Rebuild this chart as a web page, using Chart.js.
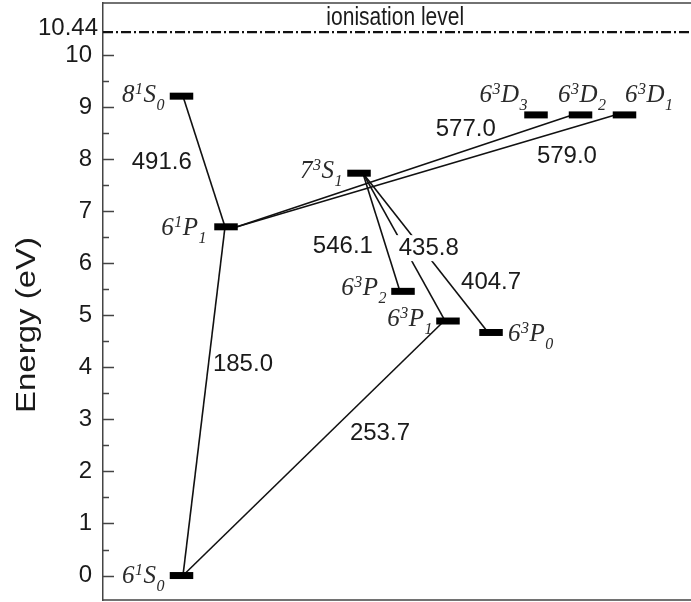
<!DOCTYPE html>
<html lang="en">
<head>
<meta charset="UTF-8">
<title>Hg energy levels</title>
<script src="https://cdn.jsdelivr.net/npm/chart.js@4"></script>
<style>
    html, body { margin: 0; padding: 0; background: #fff; overflow: hidden; }
    canvas { display: block; }
</style>
</head>
<body>
<canvas id="grafico" width="691" height="602"></canvas>
<script>
// levels: n, 2S+1, L, J, energy (eV), column across the diagram (0-100)
const levelNum    = ['6', '8', '6', '7', '6', '6', '6', '6', '6', '6'];
const levelMult   = ['1', '1', '1', '3', '3', '3', '3', '3', '3', '3'];
const levelTerm   = ['S', 'S', 'P', 'S', 'P', 'P', 'P', 'D', 'D', 'D'];
const levelJ      = ['0', '0', '1', '1', '2', '1', '0', '3', '2', '1'];
const levelEnergy = [0, 9.21, 6.70, 7.73, 5.46, 4.89, 4.67, 8.85, 8.85, 8.85];
const levelColumn = [13.35, 13.35, 20.92, 43.54, 51.02, 58.67, 65.99, 73.64, 81.21, 88.69];

// transitions: wavelength (nm), upper / lower level, where the line meets each bar
const lineWavelength = [491.6, 185.0, 577.0, 579.0, 546.1, 435.8, 404.7, 253.7];
const lineUpper      = [1, 2, 8, 9, 3, 3, 3, 5];
const lineLower      = [2, 0, 2, 2, 4, 5, 6, 0];
const lineUpperCol   = [13.6, 20.75, 79.8, 87.1, 44.2, 44.2, 44.2, 58.0];
const lineLowerCol   = [20.75, 13.6, 22.8, 22.8, 50.5, 58.2, 65.5, 13.6];
const lineLabelCol   = [10.0, 23.8, 61.7, 78.9, 40.8, 55.4, 66.0, 47.1];
const lineLabelE     = [7.93, 4.05, 8.58, 8.06, 6.33, 6.29, 5.64, 2.74];

const ionisationEnergy = 10.44;
const yTickValues  = [0, 1, 2, 3, 4, 5, 6, 7, 8, 9, 10, 10.44];
const yMinorValues = [0.5, 1.5, 2.5, 3.5, 4.5, 5.5, 6.5, 7.5, 8.5, 9.5];

// label placement (pixels from the bar centre) - layout only
const levelLabelAlign = ['right', 'right', 'right', 'right', 'right', 'right', 'left', 'right', 'left', 'left'];
const levelLabelDx    = [-16.5, -16.5, -19, -16, -16, -15, 17, -8, -22.5, 0.5];
const levelLabelDy    = [7, 6, 8, 5, 4, 5, 9, -13, -13, -13];
const labelKnockout   = [false, false, false, false, false, true, false, false];

const BAR_HALF = 2.0;
const SANS = '"Liberation Sans", Arial, sans-serif';
const SERIF = '"Liberation Serif", "Times New Roman", serif';

const datasets = [];

levelEnergy.forEach((e, i) => {
    datasets.push({
        data: [{ x: levelColumn[i] - BAR_HALF, y: e }, { x: levelColumn[i] + BAR_HALF, y: e }],
        borderColor: '#000',
        borderWidth: 7,
        borderCapStyle: 'butt',
        order: 0
    });
});

lineWavelength.forEach((w, i) => {
    datasets.push({
        data: [
            { x: lineUpperCol[i], y: levelEnergy[lineUpper[i]] },
            { x: lineLowerCol[i], y: levelEnergy[lineLower[i]] }
        ],
        borderColor: '#111',
        borderWidth: 1.6,
        order: 1
    });
});

datasets.push({
    data: [{ x: 0, y: ionisationEnergy }, { x: 100, y: ionisationEnergy }],
    borderColor: '#111',
    borderWidth: 2.2,
    borderDash: [10, 3, 2, 3],
    order: 2
});

function drawLevelLabel(ctx, i, x, y, align) {
    const big = 'italic 25px ' + SERIF;
    const small = 'italic 16px ' + SERIF;
    const parts = [
        [levelNum[i], big, 0],
        [levelMult[i], small, -8],
        [levelTerm[i], big, 0],
        [levelJ[i], small, 8]
    ];
    let total = 0;
    const widths = parts.map(p => {
        ctx.font = p[1];
        const w = ctx.measureText(p[0]).width + 0.5;
        total += w;
        return w;
    });
    let cx = align === 'right' ? x - total : x;
    ctx.textAlign = 'left';
    ctx.textBaseline = 'alphabetic';
    parts.forEach((p, k) => {
        ctx.font = p[1];
        ctx.fillText(p[0], cx, y + p[2]);
        cx += widths[k];
    });
}

// text squeezed the way the source figure is (taller than wide)
function tallText(ctx, txt, x, y, stretch) {
    ctx.save();
    ctx.translate(x, y);
    ctx.scale(1, stretch);
    ctx.fillText(txt, 0, 0);
    ctx.restore();
}

const diagramPlugin = {
    id: 'diagram',
    afterDatasetsDraw(chart) {
        const ctx = chart.ctx;
        const xs = chart.scales.x;
        const ys = chart.scales.y;
        const area = chart.chartArea;
        ctx.save();

        // transition wavelengths
        ctx.font = '24px ' + SANS;
        ctx.textAlign = 'center';
        ctx.textBaseline = 'middle';
        lineWavelength.forEach((w, i) => {
            const px = xs.getPixelForValue(lineLabelCol[i]);
            const py = ys.getPixelForValue(lineLabelE[i]);
            const txt = w.toFixed(1);
            if (labelKnockout[i]) {
                const tw = ctx.measureText(txt).width;
                ctx.fillStyle = '#fff';
                ctx.fillRect(px - tw / 2 - 3, py - 13, tw + 6, 26);
            }
            ctx.fillStyle = '#1a1a1a';
            ctx.fillText(txt, px, py);
        });

        // level names
        ctx.fillStyle = '#2a2a2a';
        levelEnergy.forEach((e, i) => {
            const px = xs.getPixelForValue(levelColumn[i]) + levelLabelDx[i];
            const py = ys.getPixelForValue(e) + levelLabelDy[i];
            drawLevelLabel(ctx, i, px, py, levelLabelAlign[i]);
        });

        // ionisation label
        ctx.font = '21px ' + SANS;
        ctx.fillStyle = '#1a1a1a';
        ctx.textAlign = 'center';
        ctx.textBaseline = 'alphabetic';
        tallText(ctx, 'ionisation level', xs.getPixelForValue(49.7), ys.getPixelForValue(ionisationEnergy) - 7, 1.25);

        // the 10.44 tick label sits a little higher and further right than the others
        ctx.font = '24px ' + SANS;
        ctx.textAlign = 'right';
        ctx.textBaseline = 'middle';
        ctx.fillText(String(ionisationEnergy), area.left - 5, ys.getPixelForValue(ionisationEnergy) - 4);

        // y axis title
        ctx.save();
        ctx.translate(28, 325);
        ctx.rotate(-Math.PI / 2);
        ctx.font = '30px ' + SANS;
        ctx.textAlign = 'center';
        ctx.textBaseline = 'middle';
        ctx.scale(1.1, 0.9);
        ctx.fillText('Energy (eV)', 0, 0);
        ctx.restore();

        // inside tick marks
        ctx.strokeStyle = '#444';
        ctx.lineWidth = 1.5;
        ctx.beginPath();
        yTickValues.filter(v => Number.isInteger(v)).forEach(v => {
            const py = Math.round(ys.getPixelForValue(v)) + 0.5;
            ctx.moveTo(area.left, py);
            ctx.lineTo(area.left + 11, py);
        });
        yMinorValues.forEach(v => {
            const py = Math.round(ys.getPixelForValue(v)) + 0.5;
            ctx.moveTo(area.left, py);
            ctx.lineTo(area.left + 6, py);
        });
        ctx.stroke();

        // top and bottom frame
        ctx.beginPath();
        ctx.moveTo(area.left, area.top);
        ctx.lineTo(area.right, area.top);
        ctx.moveTo(area.left, area.bottom);
        ctx.lineTo(area.right, area.bottom);
        ctx.stroke();
        ctx.restore();
    }
};

new Chart(document.getElementById('grafico'), {
    type: 'line',
    data: { datasets: datasets },
    options: {
        responsive: false,
        animation: false,
        layout: { padding: { top: 3, bottom: 2, left: 0, right: 0 } },
        elements: { point: { radius: 0, hoverRadius: 0 }, line: { tension: 0 } },
        plugins: { legend: { display: false }, tooltip: { enabled: false } },
        scales: {
            x: { type: 'linear', min: 0, max: 100, display: false },
            y: {
                type: 'linear',
                min: -0.47,
                max: 11.0,
                afterBuildTicks: scale => {
                    scale.ticks = yTickValues.map(v => ({ value: v }));
                },
                afterFit: scale => {
                    scale.width = 103;
                    scale.paddingTop = 0;
                    scale.paddingBottom = 0;
                },
                grid: { display: false, drawTicks: false },
                border: { display: true, color: '#444', width: 1.5 },
                ticks: {
                    autoSkip: false,
                    padding: 11,
                    color: '#1a1a1a',
                    font: { family: SANS, size: 24 },
                    callback: v => (v === ionisationEnergy ? '' : String(v))
                },
                title: { display: false }
            }
        }
    },
    plugins: [diagramPlugin]
});
</script>
</body>
</html>
